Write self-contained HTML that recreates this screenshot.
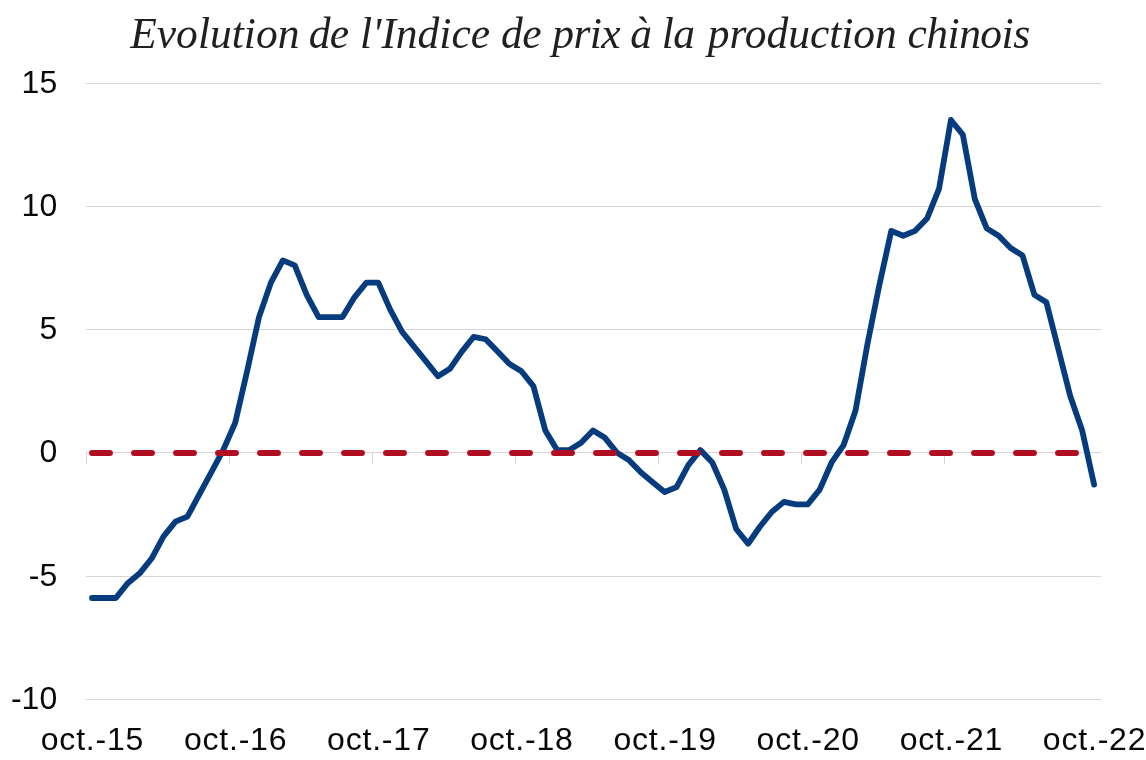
<!DOCTYPE html>
<html lang="fr"><head><meta charset="utf-8"><title>Evolution de l'Indice de prix à la production chinois</title>
<style>
html,body{margin:0;padding:0;background:#fff;overflow:hidden}
svg{display:block}
.lab text{font-family:"Liberation Sans",sans-serif;font-size:32px;fill:#080808;}
.title text{font-family:"Liberation Serif",serif;font-style:italic;font-size:43.5px;fill:#202020}
</style></head><body>
<svg width="1146" height="760" viewBox="0 0 1146 760">
<rect width="1146" height="760" fill="#fff"/>
<g class="title">
<text y="47.7"><tspan x="130.2" style="letter-spacing:0.02px">Evolution</tspan> <tspan x="308.65" style="letter-spacing:-0.6px">de</tspan> <tspan x="360.0" style="letter-spacing:0.0px">l'Indice</tspan> <tspan x="501.0" style="letter-spacing:-0.6px">de</tspan> <tspan x="552.35" style="letter-spacing:-0.6px">prix</tspan> <tspan x="630.2" style="letter-spacing:-0.6px">à</tspan> <tspan x="661.75" style="letter-spacing:-0.6px">la</tspan> <tspan x="707.85" style="letter-spacing:-0.04px">production</tspan> <tspan x="907.6" style="letter-spacing:-0.53px">chinois</tspan></text>
</g>
<g fill="#d6d6d6" stroke="none">
<rect x="86.3" y="83" width="1014.5" height="1"/>
<rect x="86.3" y="206" width="1014.5" height="1"/>
<rect x="86.3" y="329" width="1014.5" height="1"/>
<rect x="86.3" y="452" width="1014.5" height="1"/>
<rect x="86.3" y="576" width="1014.5" height="1"/>
<rect x="86.3" y="699" width="1014.5" height="1"/>
<rect x="86" y="453" width="1" height="11"/>
<rect x="229" y="453" width="1" height="11"/>
<rect x="372" y="453" width="1" height="11"/>
<rect x="515" y="453" width="1" height="11"/>
<rect x="658" y="453" width="1" height="11"/>
<rect x="801" y="453" width="1" height="11"/>
<rect x="944" y="453" width="1" height="11"/>
<rect x="1087" y="453" width="1" height="11"/>
</g>
<polyline points="91.97,597.98 103.89,597.98 115.83,597.98 127.75,583.19 139.69,573.34 151.62,558.55 163.55,536.38 175.47,521.59 187.41,516.66 199.33,494.49 211.26,472.31 223.19,450.14 235.12,423.03 247.06,371.29 258.99,317.08 270.91,282.58 282.85,260.41 294.77,265.34 306.70,294.90 318.63,317.08 330.56,317.08 342.50,317.08 354.43,297.37 366.36,282.58 378.28,282.58 390.21,309.69 402.14,331.86 414.07,346.65 426.00,361.43 437.94,376.22 449.87,368.82 461.80,351.58 473.72,336.79 485.65,339.26 497.58,351.58 509.51,363.90 521.44,371.29 533.38,386.07 545.31,430.42 557.24,450.14 569.16,450.14 581.10,442.74 593.02,430.42 604.96,437.82 616.88,452.60 628.81,459.99 640.75,472.31 652.67,482.17 664.61,492.02 676.53,487.10 688.47,464.92 700.39,450.14 712.32,462.46 724.25,489.56 736.18,528.98 748.12,543.77 760.04,526.52 771.98,511.74 783.90,501.88 795.84,504.34 807.76,504.34 819.69,489.56 831.62,462.46 843.55,445.21 855.49,410.71 867.41,344.18 879.35,285.05 891.27,230.84 903.20,235.77 915.13,230.84 927.06,218.52 939.00,188.95 950.92,119.96 962.86,134.74 974.78,198.81 986.72,228.38 998.64,235.77 1010.57,248.09 1022.50,255.48 1034.43,294.90 1046.37,302.30 1058.30,349.11 1070.22,395.93 1082.15,430.42 1094.09,484.63" fill="none" stroke="#063c7e" stroke-width="5.8" stroke-linejoin="round" stroke-linecap="round"/>
<line x1="92.1" x2="1094.09" y1="452.95" y2="452.95" stroke="#b20e23" stroke-width="6.1" stroke-linecap="round" stroke-dasharray="17.8 24.2"/>
<g class="lab">
<text x="57.2" y="93.10" text-anchor="end">15</text>
<text x="57.2" y="216.10" text-anchor="end">10</text>
<text x="57.2" y="339.10" text-anchor="end">5</text>
<text x="57.2" y="462.10" text-anchor="end">0</text>
<text x="57.2" y="586.10" text-anchor="end">-5</text>
<text x="57.2" y="709.10" text-anchor="end">-10</text>
<text x="92.47" y="749.6" text-anchor="middle" style="letter-spacing:0.8px">oct.-15</text>
<text x="235.62" y="749.6" text-anchor="middle" style="letter-spacing:0.8px">oct.-16</text>
<text x="378.78" y="749.6" text-anchor="middle" style="letter-spacing:0.8px">oct.-17</text>
<text x="521.94" y="749.6" text-anchor="middle" style="letter-spacing:0.8px">oct.-18</text>
<text x="665.11" y="749.6" text-anchor="middle" style="letter-spacing:0.8px">oct.-19</text>
<text x="808.26" y="749.6" text-anchor="middle" style="letter-spacing:0.8px">oct.-20</text>
<text x="951.42" y="749.6" text-anchor="middle" style="letter-spacing:0.8px">oct.-21</text>
<text x="1094.59" y="749.6" text-anchor="middle" style="letter-spacing:0.8px">oct.-22</text>
</g>
</svg>
</body></html>
